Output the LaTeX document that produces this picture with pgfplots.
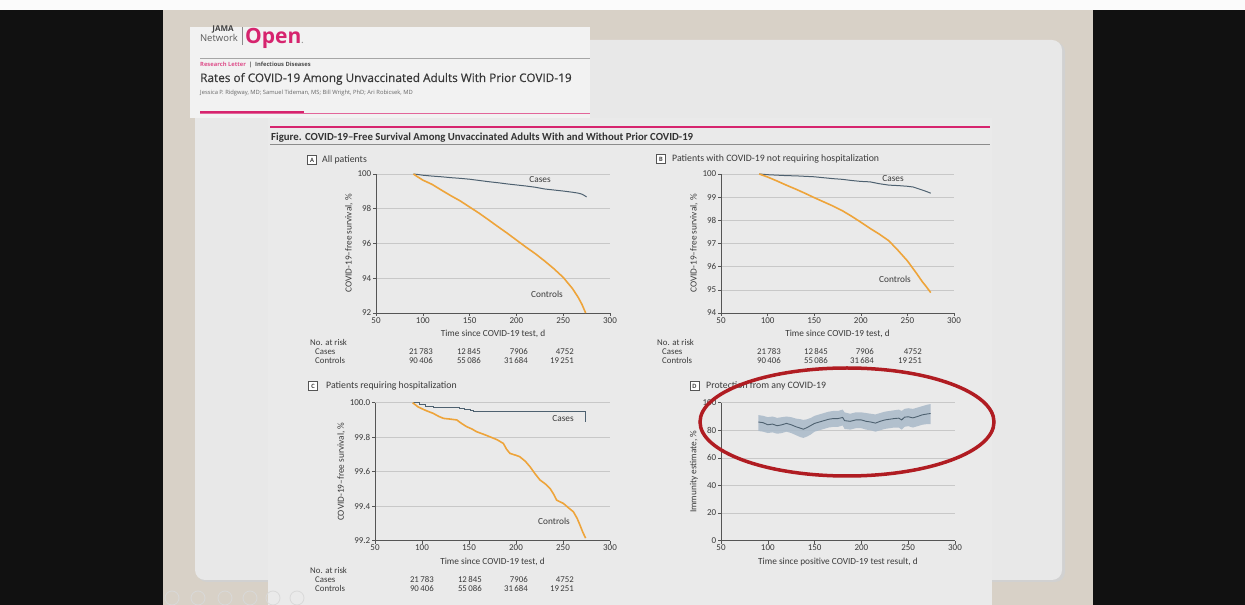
\documentclass[border=0pt]{standalone}
\usepackage{fontspec}
\setmainfont{Carlito}
\newfontfamily\opensans{Open Sans}
\newfontfamily\opensansfb{Open Sans}[FakeBold=0.4]
\usepackage{pgfplots}
\pgfplotsset{compat=1.18}
\definecolor{bgblack}{HTML}{111111}
\definecolor{beige}{HTML}{D8D1C7}
\definecolor{panelc}{HTML}{E8E8E8}
\definecolor{paperc}{HTML}{EAEAEA}
\definecolor{headc}{HTML}{F2F2F2}
\definecolor{jamapink}{HTML}{D6246E}
\definecolor{casec}{HTML}{4E6170}
\definecolor{ctrlc}{HTML}{EEA43A}
\definecolor{bandc}{HTML}{A9B9C9}
\definecolor{gridc}{HTML}{C8C8C8}
\definecolor{axc}{HTML}{555555}
\definecolor{txt}{HTML}{3A3A3A}
\definecolor{ellc}{HTML}{B01C22}
\pgfplotsset{
 km/.style={
   anchor=south west, scale only axis,
   xmin=50, xmax=300, xtick={50,100,...,300},
   axis lines*=left, axis line style={axc, line width=0.6pt},
   tick align=outside, major tick length=3pt, tick style={axc, line width=0.6pt},
   ymajorgrids, grid style={gridc, line width=0.6pt},
   tick label style={font=\fontsize{9}{9}\selectfont, text=txt},
   /pgf/number format/assume math mode=true,
   xticklabel style={inner sep=1pt},
   yticklabel style={inner sep=1.5pt},
   label style={font=\fontsize{9.3}{10}\selectfont, text=txt},
   xlabel style={inner sep=1pt, yshift=-5pt},
   ylabel style={inner sep=1pt, yshift=2pt},
   clip=false,
 },
 cases/.style={casec, line width=1pt},
 ctrls/.style={ctrlc, line width=1.6pt},
}
\newcommand{\tabfont}{\fontsize{8.8}{9}\selectfont\color{txt}}
\newcommand{\plabel}[3]{%
  \node[draw=axc, fill=white, line width=0.5pt, minimum size=9pt, inner sep=0pt,
        font=\fontsize{6.5}{7}\selectfont\bfseries, text=txt] at (#1,#2) {#3};}
\begin{document}
\begin{tikzpicture}[x=1pt,y=1pt]
\useasboundingbox (0,0) rectangle (1245,605);
% background
\fill[bgblack] (0,0) rectangle (1245,605);
\fill[white!97!gray] (0,595) rectangle (1245,605);
\fill[beige] (163,0) rectangle (1093,595);
% slide panel with shadow
\fill[black!18, rounded corners=10pt] (197,23) rectangle (1065,563);
\fill[panelc, rounded corners=10pt] (195,25) rectangle (1062,565);
% paper
\fill[paperc] (268,0) rectangle (992,487);
% faint icons
\foreach \cx in {172,198,225,250,273,297} \draw[black!15, line width=0.8pt] (\cx,7) circle (7);
% header box
\fill[headc] (190,487) rectangle (590,578);
\node[anchor=base, inner sep=0pt, font=\opensans\bfseries\fontsize{8}{8}\selectfont, text=black!75] at (223,573.5) {JAMA};
\node[anchor=base, inner sep=0pt, font=\opensans\fontsize{9.5}{9.5}\selectfont, text=black!65] at (219,563.5) {Network};
\draw[black!45, line width=0.6pt] (242,560) -- (242,578);
\node[anchor=base west, inner sep=0pt, font=\opensans\bfseries\fontsize{21}{21}\selectfont, text=jamapink] at (245,561) {Open\textcolor{black!40}{\fontsize{8}{8}\selectfont.}};
\draw[black!35, line width=0.6pt] (200,547) -- (590,547);
\node[anchor=base west, inner sep=0pt, font=\opensans\bfseries\fontsize{5.8}{7}\selectfont] at (200,538.5) {\textcolor{jamapink!80}{Research Letter}\textcolor{black!70}{\ \ |\ \ Infectious Diseases}};
\node[anchor=base west, inner sep=0pt, font=\opensansfb\fontsize{11.8}{12}\selectfont, text=black!78] at (200,523) {Rates of COVID-19 Among Unvaccinated Adults With Prior COVID-19};
\node[anchor=base west, inner sep=0pt, font=\opensans\fontsize{5.8}{6}\selectfont, text=black!60] at (200,510) {Jessica P. Ridgway, MD; Samuel Tideman, MS; Bill Wright, PhD; Ari Robicsek, MD};
\draw[jamapink!70, line width=0.6pt] (200,492) -- (590,492);
\draw[jamapink, line width=2.6pt] (200,493) -- (304,493);
% figure caption
\draw[jamapink, line width=1.8pt] (270,478) -- (990,478);
\node[anchor=base west, inner sep=0pt, font=\bfseries\fontsize{10.8}{11}\selectfont, text=black!80] at (271,464.5) {Figure. COVID-19--Free Survival Among Unvaccinated Adults With and Without Prior COVID-19};
\draw[black!45, line width=0.8pt] (270,461) -- (990,461);
% panel labels
\plabel{312}{445}{A}
\node[anchor=west, inner sep=0pt, font=\fontsize{9.8}{10}\selectfont, text=txt] at (322,445) {All patients};
\plabel{661}{446}{B}
\node[anchor=west, inner sep=0pt, font=\fontsize{9.8}{10}\selectfont, text=txt] at (672,446) {Patients with COVID-19 not requiring hospitalization};
\plabel{313}{219}{C}
\node[anchor=west, inner sep=0pt, font=\fontsize{9.8}{10}\selectfont, text=txt] at (326,219) {Patients requiring hospitalization};
\plabel{694.5}{219}{D}
\node[anchor=west, inner sep=0pt, font=\fontsize{9.8}{10}\selectfont, text=txt] at (706,219) {Protection from any COVID-19};

% ---------- Panel A ----------
\begin{axis}[km, at={(376pt,292pt)}, width=234pt, height=139pt,
  ymin=92, ymax=100, ytick={92,94,...,100},
  xlabel={Time since COVID-19 test, d}, ylabel={COVID-19--free survival, \%}]
\addplot[cases] coordinates {(90,100) (95,99.97) (100,99.93) (110,99.88) (120,99.84) (130,99.79) (140,99.75) (150,99.70) (160,99.63) (170,99.56) (180,99.50) (190,99.43) (200,99.37) (210,99.31) (220,99.24) (230,99.14) (240,99.08) (250,99.02) (260,98.95) (266,98.90) (270,98.84) (273,98.75) (275,98.68)};
\addplot[ctrls] coordinates {(90,100) (95,99.82) (100,99.65) (110,99.40) (120,99.07) (130,98.75) (140,98.45) (150,98.10) (160,97.75) (170,97.37) (180,96.98) (190,96.60) (200,96.20) (210,95.80) (220,95.42) (230,95.00) (240,94.55) (250,94.05) (260,93.40) (266,92.90) (270,92.50) (274,92.00)};
\end{axis}
\node[font=\fontsize{9.3}{10}\selectfont, text=txt] at (540,425) {Cases};
\node[font=\fontsize{9.3}{10}\selectfont, text=txt] at (547,311) {Controls};

% ---------- Panel B ----------
\begin{axis}[km, at={(721pt,292pt)}, width=233pt, height=139pt,
  ymin=94, ymax=100, ytick={94,95,...,100},
  xlabel={Time since COVID-19 test, d}, ylabel={COVID-19--free survival, \%}]
\addplot[cases] coordinates {(91,100) (100,99.97) (110,99.95) (120,99.93) (130,99.92) (140,99.90) (150,99.88) (160,99.84) (170,99.80) (180,99.77) (190,99.72) (200,99.68) (210,99.66) (220,99.58) (230,99.52) (240,99.50) (250,99.47) (256,99.44) (262,99.36) (268,99.28) (272,99.22) (275,99.17)};
\addplot[ctrls] coordinates {(91,100) (100,99.87) (110,99.70) (120,99.52) (130,99.35) (140,99.17) (150,98.98) (160,98.80) (170,98.62) (180,98.42) (190,98.18) (200,97.92) (210,97.65) (220,97.40) (230,97.12) (240,96.70) (250,96.25) (260,95.70) (266,95.35) (270,95.15) (275,94.88)};
\end{axis}
\node[font=\fontsize{9.3}{10}\selectfont, text=txt] at (893,426) {Cases};
\node[font=\fontsize{9.3}{10}\selectfont, text=txt] at (895,326) {Controls};

% ---------- Panel C ----------
\begin{axis}[km, at={(375pt,64.3pt)}, width=235pt, height=138pt,
  ymin=99.2, ymax=100, ytick={99.2,99.4,...,100.0},
  yticklabel style={/pgf/number format/fixed, /pgf/number format/fixed zerofill, /pgf/number format/precision=1},
  xlabel={Time since COVID-19 test, d}, ylabel={COVID-19--free survival, \%}]
\addplot[cases] coordinates {(90,100) (97,100) (97,99.99) (104,99.99) (104,99.978) (112,99.978) (112,99.973) (140,99.973) (140,99.966) (145,99.966) (145,99.960) (152,99.960) (152,99.953) (155,99.953) (155,99.948) (274,99.948) (274,99.89)};
\addplot[ctrls] coordinates {(90,100) (96,99.975) (104,99.955) (112,99.938) (118,99.92) (123,99.909) (130,99.905) (137,99.90) (142,99.88) (147.5,99.861) (153,99.848) (158,99.832) (165,99.818) (172,99.803) (180,99.785) (186.5,99.764) (190,99.73) (193.6,99.706) (200,99.695) (204,99.687) (210,99.66) (214.9,99.629) (220,99.59) (225.5,99.552) (231,99.53) (236.2,99.503) (240,99.47) (243.3,99.435) (250.4,99.416) (256,99.39) (261,99.368) (265,99.33) (268.1,99.29) (271,99.25) (274,99.215)};
\end{axis}
\node[font=\fontsize{9.3}{10}\selectfont, text=txt] at (563,186) {Cases};
\node[font=\fontsize{9.3}{10}\selectfont, text=txt] at (554,84) {Controls};

% ---------- Panel D ----------
\begin{axis}[km, at={(721pt,64.3pt)}, width=234pt, height=138pt,
  ymin=0, ymax=100, ytick={0,20,...,100},
  xlabel={Time since positive COVID-19 test result, d}, ylabel={Immunity estimate, \%}]
\addplot[fill=bandc, draw=none, fill opacity=0.85] coordinates {
(90,91.0) (95,90.5) (100,89.5) (105,90.0) (110,89.0) (115,89.5) (120,90.0) (125,89.5) (130,88.5) (135,88.0) (138,87.5) (142,88.0) (146,89.0) (150,90.5) (155,91.5) (160,92.5) (165,93.5) (170,94.0) (175,94.0) (180,95.0) (182,93.0) (188,92.0) (194,93.0) (200,93.0) (205,92.5) (210,92.0) (215,91.5) (220,92.5) (225,93.5) (230,94.0) (235,94.5) (240,95.0) (243,94.0) (246,95.5) (250,96.0) (255,95.5) (260,96.5) (265,97.5) (270,98.5) (274,99.0)
(274,84.5) (270,84.5) (265,84.0) (260,83.0) (255,82.0) (250,83.0) (246,82.5) (243,80.5) (240,82.0) (235,82.0) (230,81.5) (225,81.0) (220,80.0) (215,79.0) (210,80.0) (205,80.5) (200,81.5) (194,81.5) (188,80.5) (182,81.0) (180,83.5) (175,82.5) (170,82.5) (165,82.0) (160,81.0) (155,80.0) (150,79.0) (146,77.0) (142,75.5) (138,74.5) (135,75.0) (130,76.5) (125,78.0) (120,79.0) (115,78.0) (110,77.5) (105,78.5) (100,78.0) (95,79.0) (90,79.5)} -- cycle;
\addplot[casec, line width=0.9pt] coordinates {(90,86.0) (95,85.5) (100,84.0) (105,84.5) (110,83.3) (115,84.0) (120,85.0) (125,84.0) (130,82.6) (135,81.5) (138,80.8) (142,82.0) (146,83.5) (150,85.0) (155,86.0) (160,87.0) (165,88.0) (170,88.5) (175,88.5) (180,89.3) (182,87.0) (188,86.5) (194,87.5) (200,87.5) (205,86.5) (210,86.0) (215,85.2) (220,86.5) (225,87.5) (230,88.0) (235,88.5) (240,88.8) (243,87.5) (246,89.5) (250,89.8) (255,89.0) (260,90.0) (265,91.2) (270,91.8) (274,92.2)};
\end{axis}

% ---------- No. at risk tables ----------
\foreach \bx/\by/\ra/\rb/\rc/\rd in {310/259/433/481/528/574, 657/259/781/828/874/922, 310/31/434/482/528/574}{
  \pgfmathsetmacro{\yb}{\by-9}
  \pgfmathsetmacro{\yc}{\by-17.5}
  \pgfmathsetmacro{\xb}{\bx+5}
  \node[anchor=base west, inner sep=0pt, font=\tabfont] at (\bx,\by) {No. at risk};
  \node[anchor=base west, inner sep=0pt, font=\tabfont] at (\xb,\yb) {Cases};
  \node[anchor=base west, inner sep=0pt, font=\tabfont] at (\xb,\yc) {Controls};
  \node[anchor=base east, inner sep=0pt, font=\tabfont] at (\ra,\yb) {21\,783};
  \node[anchor=base east, inner sep=0pt, font=\tabfont] at (\rb,\yb) {12\,845};
  \node[anchor=base east, inner sep=0pt, font=\tabfont] at (\rc,\yb) {7906};
  \node[anchor=base east, inner sep=0pt, font=\tabfont] at (\rd,\yb) {4752};
  \node[anchor=base east, inner sep=0pt, font=\tabfont] at (\ra,\yc) {90\,406};
  \node[anchor=base east, inner sep=0pt, font=\tabfont] at (\rb,\yc) {55\,086};
  \node[anchor=base east, inner sep=0pt, font=\tabfont] at (\rc,\yc) {31\,684};
  \node[anchor=base east, inner sep=0pt, font=\tabfont] at (\rd,\yc) {19\,251};
}
% red ellipse
\draw[ellc, line width=3.5pt] (847,183) ellipse [x radius=147, y radius=54];
\end{tikzpicture}
\end{document}
